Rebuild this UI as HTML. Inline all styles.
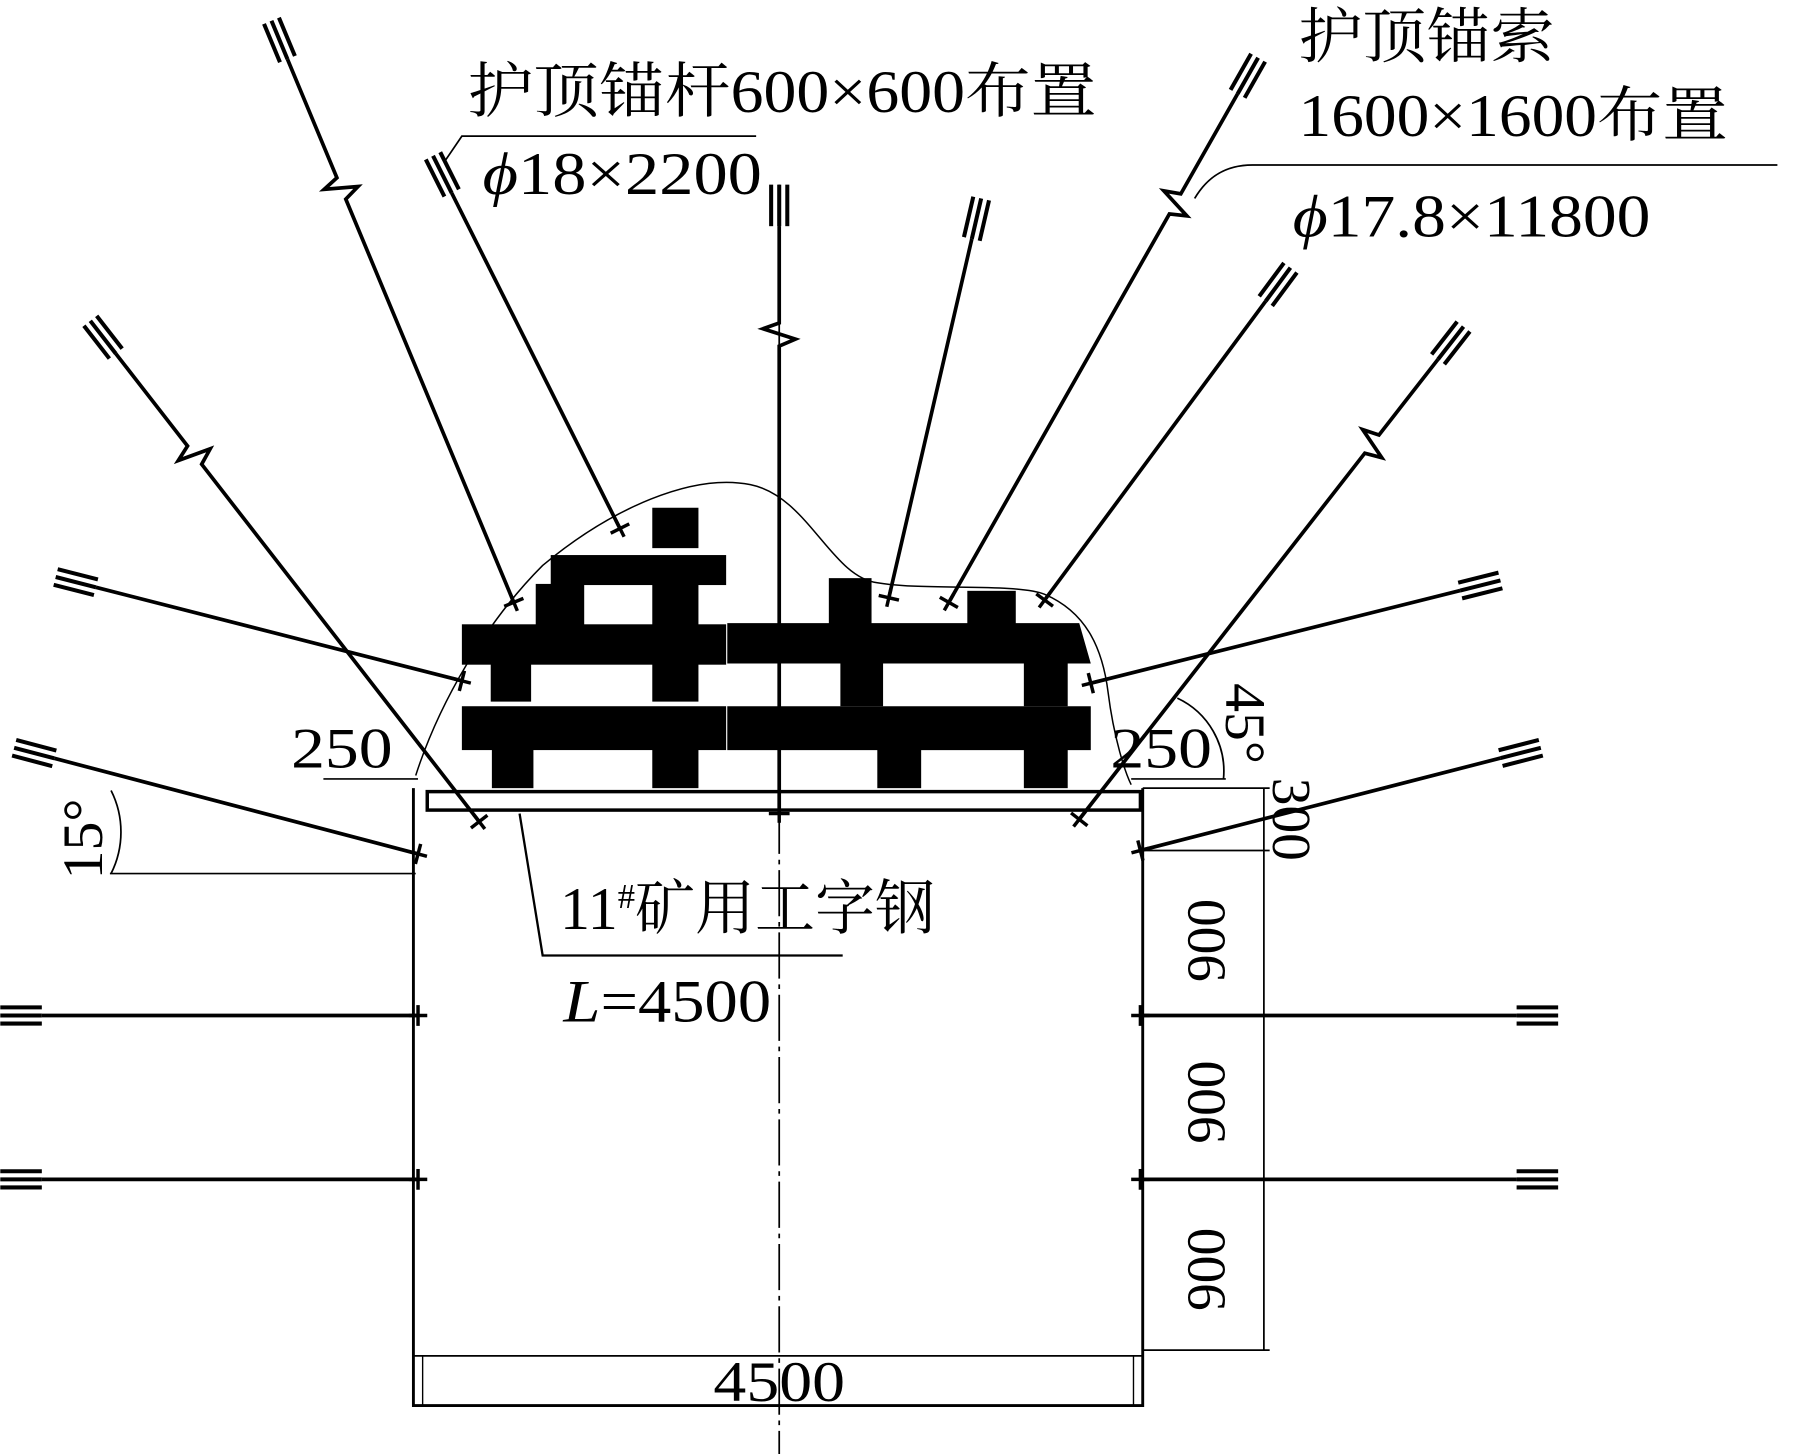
<!DOCTYPE html>
<html><head><meta charset="utf-8"><style>
html,body{margin:0;padding:0;background:#fff;}
svg{display:block;}
text{font-family:"Liberation Serif","Noto Serif CJK SC",serif;fill:#000;}
</style></head><body>
<svg id="s" width="1810" height="1454" viewBox="0 0 1568 1260" xmlns="http://www.w3.org/2000/svg">
<rect width="1568" height="1260" fill="#fff"/>
<line x1="675" y1="160" x2="675" y2="1260" stroke="#000" stroke-width="1.5" stroke-dasharray="40,5,4,5"/>
<polyline points="358,683 358,1218 990,1218 990,683" fill="none" stroke="#000" stroke-width="2.5"/>
<line x1="358" y1="1175" x2="990" y2="1175" stroke="#000" stroke-width="1.5"/>
<line x1="366" y1="1175" x2="366" y2="1218" stroke="#000" stroke-width="1.2"/>
<line x1="982" y1="1175" x2="982" y2="1218" stroke="#000" stroke-width="1.2"/>
<text x="618" y="1214" font-size="50" textLength="114" lengthAdjust="spacingAndGlyphs">4500</text>
<g stroke="#000" stroke-width="1.5">
<line x1="990" y1="683" x2="1100" y2="683"/>
<line x1="990" y1="737" x2="1100" y2="737"/>
<line x1="990" y1="880" x2="1100" y2="880"/>
<line x1="990" y1="1022" x2="1100" y2="1022"/>
<line x1="990" y1="1170" x2="1100" y2="1170"/>
<line x1="1095" y1="683" x2="1095" y2="1170"/>
</g>
<text font-size="48" transform="translate(1103,710) rotate(90)" text-anchor="middle">300</text>
<text font-size="48" transform="translate(1050,815) rotate(-90)" text-anchor="middle" dominant-baseline="middle">900</text>
<text font-size="48" transform="translate(1050,955) rotate(-90)" text-anchor="middle" dominant-baseline="middle">900</text>
<text font-size="48" transform="translate(1050,1100) rotate(-90)" text-anchor="middle" dominant-baseline="middle">900</text>
<line x1="280" y1="675" x2="362" y2="675" stroke="#000" stroke-width="1.5"/>
<text x="252" y="665" font-size="50" textLength="88" lengthAdjust="spacingAndGlyphs">250</text>
<line x1="980" y1="675" x2="1062" y2="675" stroke="#000" stroke-width="1.5"/>
<text x="962" y="665" font-size="50" textLength="88" lengthAdjust="spacingAndGlyphs">250</text>
<text font-size="50" transform="translate(1062,592) rotate(90)">45°</text>
<path d="M1020,605 A70,70 0 0 1 1060,675" fill="none" stroke="#000" stroke-width="1.5"/>
<line x1="95" y1="757" x2="360" y2="757" stroke="#000" stroke-width="1.5"/>
<path d="M96,685 A80,80 0 0 1 96,757" fill="none" stroke="#000" stroke-width="1.5"/>
<text font-size="50" transform="translate(88,762) rotate(-90)">15°</text>
<path d="M360,672 C380,610 420,540 470,490 C530,440 600,410 650,420 C700,430 720,500 760,505 C800,512 880,505 905,515 C940,530 955,560 960,600 C965,640 975,670 980,680" fill="none" stroke="#000" stroke-width="1.3"/>
<g fill="#000">
<rect x="565" y="440" width="40" height="35"/>
<rect x="477" y="481" width="152" height="26"/>
<rect x="464" y="506" width="42" height="36"/>
<rect x="565" y="506" width="40" height="36"/>
<rect x="400" y="541" width="229" height="35"/>
<rect x="425" y="575" width="35" height="33"/>
<rect x="565" y="575" width="40" height="33"/>
<rect x="400" y="612" width="229" height="38"/>
<rect x="426" y="649" width="36" height="34"/>
<rect x="565" y="649" width="40" height="34"/>
<rect x="718" y="501" width="37" height="40"/>
<rect x="838" y="512" width="42" height="30"/>
<polygon points="630,540 935,540 945,575 630,575"/>
<rect x="728" y="574" width="37" height="38"/>
<rect x="887" y="574" width="38" height="38"/>
<polygon points="630,612 945,612 945,650 630,650"/>
<rect x="760" y="649" width="38" height="34"/>
<rect x="887" y="649" width="38" height="34"/>
</g>
<rect x="370" y="686" width="618" height="16" fill="#fff" stroke="#000" stroke-width="3"/>
<g id="anch"></g>
<text x="405" y="97" font-size="52" textLength="545" lengthAdjust="spacingAndGlyphs">护顶锚杆600×600布置</text>
<polyline points="385,140 400,118 655,118" fill="none" stroke="#000" stroke-width="1.5"/>
<text x="418" y="168" font-size="52" textLength="242" lengthAdjust="spacingAndGlyphs"><tspan font-style="italic">ϕ</tspan>18×2200</text>
<text x="1125" y="50" font-size="52" textLength="222" lengthAdjust="spacingAndGlyphs">护顶锚索</text>
<text x="1125" y="118" font-size="52" textLength="372" lengthAdjust="spacingAndGlyphs">1600×1600布置</text>
<path d="M1035,172 C1045,155 1060,143 1085,143 L1540,143" fill="none" stroke="#000" stroke-width="1.5"/>
<text x="1120" y="205" font-size="52" textLength="310" lengthAdjust="spacingAndGlyphs"><tspan font-style="italic">ϕ</tspan>17.8×11800</text>
<text x="485" y="805" font-size="52">11<tspan font-size="30" dy="-18">#</tspan><tspan dy="18">矿用工字钢</tspan></text>
<polyline points="450,705 470,828 730,828" fill="none" stroke="#000" stroke-width="2"/>
<text x="488" y="885" font-size="52" textLength="180" lengthAdjust="spacingAndGlyphs"><tspan font-style="italic">L</tspan>=4500</text>
</svg>
<script>
(function(){
var g=document.getElementById('anch'),NS='http://www.w3.org/2000/svg';
function L(x1,y1,x2,y2,w){var l=document.createElementNS(NS,'line');l.setAttribute('x1',x1);l.setAttribute('y1',y1);l.setAttribute('x2',x2);l.setAttribute('y2',y2);l.setAttribute('stroke','#000');l.setAttribute('stroke-width',w||3);g.appendChild(l);}
function P(pts){var p=document.createElementNS(NS,'polyline');p.setAttribute('points',pts.map(function(a){return a[0]+','+a[1]}).join(' '));p.setAttribute('fill','none');p.setAttribute('stroke','#000');p.setAttribute('stroke-width',3.2);g.appendChild(p);}
function A(x1,y1,x2,y2,zf){
 var dx=x2-x1,dy=y2-y1,len=Math.hypot(dx,dy),ux=dx/len,uy=dy/len,nx=-uy,ny=ux;
 for(var k=-1;k<=1;k++){var ox=nx*7*k,oy=ny*7*k;L(x1+ox,y1+oy,x1+ux*36+ox,y1+uy*36+oy,3.5);}
 if(zf){var t=len*zf,ax=x1+ux*t,ay=y1+uy*t;
  P([[x1+ux*36,y1+uy*36],[ax,ay],[ax+nx*14+ux*5,ay+ny*14+uy*5],[ax-nx*14+ux*14,ay-ny*14+uy*14],[ax+ux*20,ay+uy*20],[x2,y2]]);
 } else P([[x1+ux*36,y1+uy*36],[x2,y2]]);
 L(x2-nx*9,y2-ny*9,x2+nx*9,y2+ny*9,3);L(x2-ux*8,y2-uy*8,x2+ux*8,y2+uy*8,3);
}
A(235,18,445,522,0.27);
A(375,135,537,458);
A(675,160,675,705,0.22);
A(850,172,770,518);
A(1090,50,822,522,0.25);
A(1118,232,905,520);
A(1268,283,935,710,0.22);
A(78,278,415,712,0.25);
A(48,500,400,590);
A(12,648,362,740);
A(1300,503,945,592);
A(1335,648,988,737);
A(0,880,362,880);A(0,1022,362,1022);
A(1350,880,988,880);A(1350,1022,988,1022);
})();
</script>
</body></html>
